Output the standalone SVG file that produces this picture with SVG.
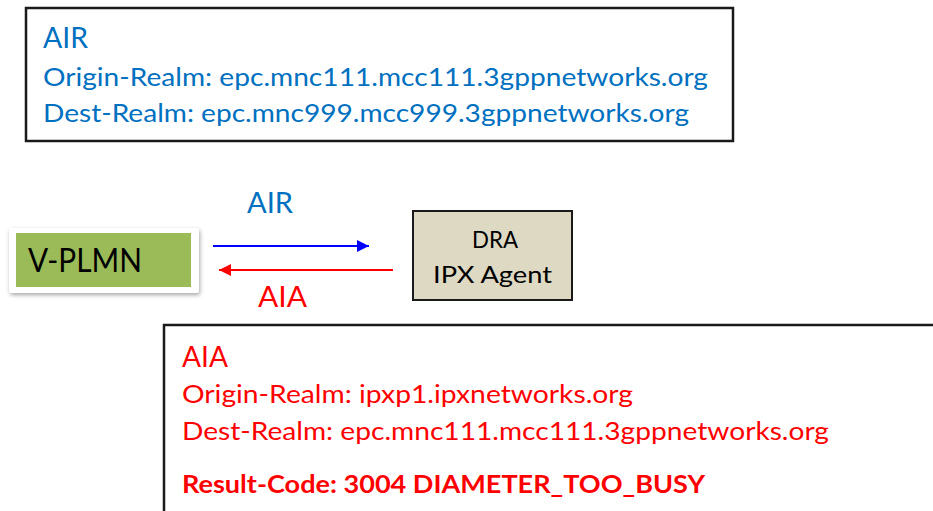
<svg xmlns="http://www.w3.org/2000/svg" width="933" height="511" viewBox="0 0 933 511">
  <style>
    text { font-family: Lato, "Liberation Sans", sans-serif; }
    .blue { fill: #0070C0; }
    .red { fill: #FF0000; }
    .frame { fill: #FFFFFF; stroke: #1a1a1a; stroke-width: 2.5; }
  </style>
  <defs>
    <marker id="arrowBlue" markerWidth="12" markerHeight="12" refX="12" refY="6" orient="auto" markerUnits="userSpaceOnUse">
      <path d="M0,0 L12,6 L0,12 Z" fill="#0000FF"/>
    </marker>
    <marker id="arrowRed" markerWidth="12" markerHeight="12" refX="12" refY="6" orient="auto" markerUnits="userSpaceOnUse">
      <path d="M0,0 L12,6 L0,12 Z" fill="#FF0000"/>
    </marker>
    <filter id="shadow" x="-10%" y="-20%" width="120%" height="150%">
      <feDropShadow dx="1" dy="2" stdDeviation="2" flood-color="#000000" flood-opacity="0.35"/>
    </filter>
  </defs>
  <rect width="933" height="511" fill="#FFFFFF"/>

  <g id="air-box">
    <rect class="frame" x="26" y="8" width="707" height="133"/>
    <text class="blue" x="43" y="48" font-size="29" textLength="45" lengthAdjust="spacingAndGlyphs">AIR</text>
    <text class="blue" x="43" y="86" font-size="25" textLength="665" lengthAdjust="spacingAndGlyphs">Origin-Realm: epc.mnc111.mcc111.3gppnetworks.org</text>
    <text class="blue" x="43" y="122" font-size="25" textLength="646" lengthAdjust="spacingAndGlyphs">Dest-Realm: epc.mnc999.mcc999.3gppnetworks.org</text>
  </g>

  <g id="vplmn">
    <rect x="9" y="228" width="190" height="65" rx="3" fill="#FFFFFF" filter="url(#shadow)"/>
    <rect x="16" y="233" width="175" height="54" fill="#9BBB59"/>
    <text x="28" y="272" font-size="33" fill="#000000" textLength="114" lengthAdjust="spacingAndGlyphs">V-PLMN</text>
  </g>

  <g id="dra">
    <rect x="413" y="211" width="159" height="89" fill="#DDD9C3" stroke="#1a1a1a" stroke-width="2"/>
    <text x="472" y="248" font-size="24" fill="#000000" textLength="46" lengthAdjust="spacingAndGlyphs">DRA</text>
    <text x="433" y="283" font-size="24" fill="#000000" textLength="119" lengthAdjust="spacingAndGlyphs">IPX Agent</text>
  </g>

  <g id="connectors">
    <line x1="213" y1="246" x2="369" y2="246" stroke="#0000FF" stroke-width="2" marker-end="url(#arrowBlue)"/>
    <line x1="393" y1="270" x2="219" y2="270" stroke="#FF0000" stroke-width="2" marker-end="url(#arrowRed)"/>
    <text class="blue" x="247" y="213" font-size="29" textLength="46" lengthAdjust="spacingAndGlyphs">AIR</text>
    <text class="red" x="258" y="307" font-size="29" textLength="49" lengthAdjust="spacingAndGlyphs">AIA</text>
  </g>

  <g id="aia-box">
    <rect class="frame" x="164" y="325" width="800" height="220"/>
    <text class="red" x="182" y="367" font-size="29" textLength="46" lengthAdjust="spacingAndGlyphs">AIA</text>
    <text class="red" x="182" y="403" font-size="25" textLength="451" lengthAdjust="spacingAndGlyphs">Origin-Realm: ipxp1.ipxnetworks.org</text>
    <text class="red" x="182" y="440" font-size="25" textLength="647" lengthAdjust="spacingAndGlyphs">Dest-Realm: epc.mnc111.mcc111.3gppnetworks.org</text>
    <text class="red" x="182" y="493" font-size="24" font-weight="bold" textLength="523" lengthAdjust="spacingAndGlyphs">Result-Code: 3004 DIAMETER_TOO_BUSY</text>
  </g>
</svg>
